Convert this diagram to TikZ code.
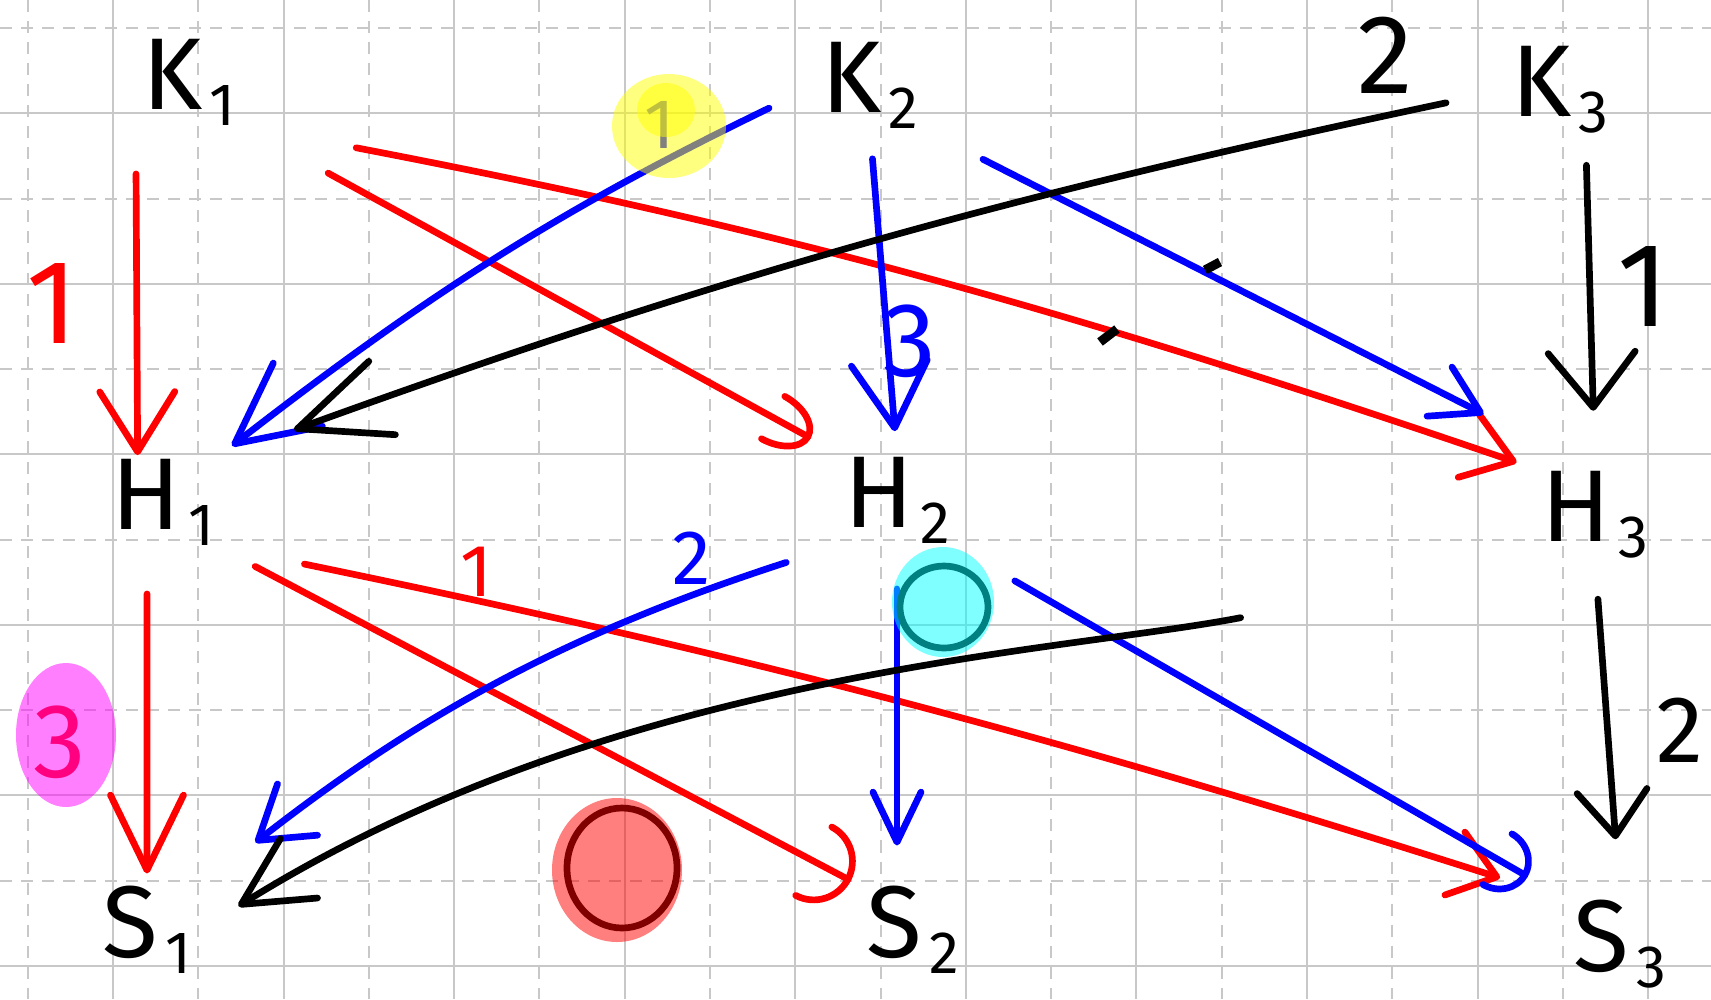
\documentclass[tikz,border=0pt]{standalone}
\usepackage{fontspec}
\setmainfont{Fira Sans}
\usetikzlibrary{arrows.meta}
\definecolor{penred}{RGB}{255,0,0}
\definecolor{penblue}{RGB}{0,0,255}
\definecolor{gridgray}{RGB}{200,200,200}
\definecolor{hlyellow}{RGB}{255,255,0}
\definecolor{hlpink}{RGB}{255,0,255}
\definecolor{hlcyan}{RGB}{0,255,255}
\definecolor{hlred}{RGB}{255,0,0}
\newcommand{\ix}[1]{\kern2pt\raisebox{-0.3ex}{\fontsize{17}{17}\selectfont #1}}

\begin{document}
\begin{tikzpicture}[
  x=0.01cm, y=-0.01cm,
  gridsolid/.style={draw=gridgray, line width=0.6pt},
  griddash/.style={draw=gridgray, line width=0.6pt, dash pattern=on 1.2mm off 0.9mm},
  pen/.style={line width=1.9pt, line cap=round, line join=round},
  redpen/.style={pen, draw=penred},
  bluepen/.style={pen, draw=penblue},
  blackpen/.style={pen, draw=black},
  vtip/.style 2 args={-{Straight Barb[round, length=#1, width=#2]}},
  arctip/.style 2 args={-{Arc Barb[round, length=#1, width=#2]}},
  lbl/.style={font=\fontsize{29}{30}\selectfont, inner sep=0pt, minimum width=1.05cm, minimum height=0.85cm},
  num/.style={font=\fontsize{#1}{#1}\selectfont, inner sep=0pt},
  hl/.style={fill=#1, fill opacity=0.5, draw=none}
]
  \useasboundingbox[fill=white] (0,0) rectangle (1711,999);

  % squared paper
  \foreach \i in {0,...,9} {
    \draw[gridsolid] ({113+170.57*\i},0) -- ++(0,999);
    \draw[griddash] ({27.7+170.57*\i},0) -- ++(0,999);
  }
  \foreach \j in {0,...,5} {
    \draw[gridsolid] (0,{113+170.57*\j}) -- ++(1711,0);
    \draw[griddash] (0,{28+170.57*\j}) -- ++(1711,0);
  }

  % letters
  \node[lbl] (K1) at (189,82) {K\ix{1}};
  \node[lbl] (K2) at (870,85) {K\ix{2}};
  \node[lbl] (K3) at (1560,90) {K\ix{3}};
  \node[lbl] (H1) at (163,502) {H\ix{1}};
  \node[lbl] (H2) at (897,500) {H\ix{2}};
  \node[lbl] (H3) at (1595,515) {H\ix{3}};
  \node[lbl] (S1) at (147,930) {S\ix{1}};
  \node[lbl] (S2) at (913,930) {S\ix{2}};
  \node[lbl] (S3) at (1620,944) {S\ix{3}};

  % K -> H
  \draw[redpen, vtip={6mm}{7.5mm}, shorten <=4.8mm, shorten >=0.3mm] (K1.south west) -- (H1.120);
  \draw[redpen, vtip={4.7mm}{6.6mm}, shorten <=11.6mm, shorten >=2.6mm] (K1.south east) to[bend left=4] (H3.north west);
  \draw[redpen, arctip={4.3mm}{5.5mm}, shorten <=9.8mm, shorten >=3.7mm] (K1.south east) -- (H2.north west);
  \draw[bluepen, vtip={8mm}{8mm}, shorten <=5.3mm, shorten >=2mm] (K2.west) to[bend right=6] (H1.north east);
  \draw[bluepen, vtip={6.5mm}{7.6mm}, shorten <=3mm, shorten >=2.5mm] (K2.south) -- (H2.north);
  \draw[bluepen, vtip={4.6mm}{5.5mm}, shorten <=6.7mm, shorten >=12.5mm] (K2.south east) -- (H3.north);
  \draw[blackpen, vtip={9mm}{7.8mm}, shorten <=6.2mm, shorten >=8.3mm] (K3.west) to[bend right=4] (H1.north east);
  \draw[blackpen, vtip={5.5mm}{8.7mm}, shorten <=3.1mm, shorten >=6mm] (K3.-60) -- (H3.north);

  % H -> S
  \draw[redpen, vtip={7.5mm}{7.3mm}, shorten <=4.8mm, shorten >=1.2mm] (H1.-110) -- (S1.north);
  \draw[redpen, arctip={4.2mm}{8.4mm}, shorten <=4.4mm, shorten >=1mm] (H1.south east) -- (S2.north west);
  \draw[redpen, vtip={4.4mm}{6.6mm}, shorten <=9mm, shorten >=7mm] (H1.south east) to[bend left=3] (S3.north west);
  \draw[bluepen, vtip={5mm}{6.5mm}, shorten <=6mm, shorten >=7mm] (H2.south west) to[bend right=10] (S1.north east);
  \draw[bluepen, vtip={5mm}{4.8mm}, shorten <=4.5mm, shorten >=4mm] (H2.south) -- (H2.south |- S2.north);
  \draw[bluepen, arctip={3.5mm}{6.5mm}, shorten <=7.4mm, shorten >=4.5mm] (H2.south east) -- (S3.north west);
  \draw[blackpen, vtip={6.8mm}{7mm}, shorten <=30.6mm, shorten >=4.5mm] (H3.south west) to[out=191, in=32, looseness=0.9] (S1.east);
  \draw[blackpen, vtip={4.5mm}{7mm}, shorten <=4mm, shorten >=6mm] (H3.south) -- (S3.north);

  % small marks
  \draw[blackpen, line width=2.6pt, line cap=butt] (1205,270) -- (1220,262);
  \draw[blackpen, line width=2.6pt, line cap=butt] (1100,342) -- (1117,329);

  % weights
  \node[num=34, text=penred] (w1) at (52,303) {1};
  \node[num=20, text=penblue] (w2) at (660,125) {1};
  \node[num=32] (w3) at (1385,55) {2};
  \node[num=30, text=penblue] (w4) at (910,341) {3};
  \node[num=34] (w5) at (1643,286) {1};
  \node[num=21, text=penred] (w6) at (476,572) {1};
  \node[num=22, text=penblue] (w7) at (692,558) {2};
  \node[num=30, text=penred] (w8) at (60,742) {3};
  \node[num=27] (w9) at (1680,730) {2};

  % rings
  \draw[blackpen] (944,607) ellipse [x radius=44, y radius=41];
  \draw[blackpen] (622,868) ellipse [x radius=55, y radius=60];

  % highlighter
  \fill[hl=hlyellow] (669,126) ellipse [x radius=57, y radius=52];
  \fill[hl=hlyellow] (666,110) ellipse [x radius=29, y radius=27];
  \fill[hl=hlpink] (66,735) ellipse [x radius=50, y radius=72];
  \fill[hl=hlcyan] (943,602) ellipse [x radius=51, y radius=55];
  \fill[hl=hlred] (617,870) ellipse [x radius=65, y radius=72];
\end{tikzpicture}
\end{document}
